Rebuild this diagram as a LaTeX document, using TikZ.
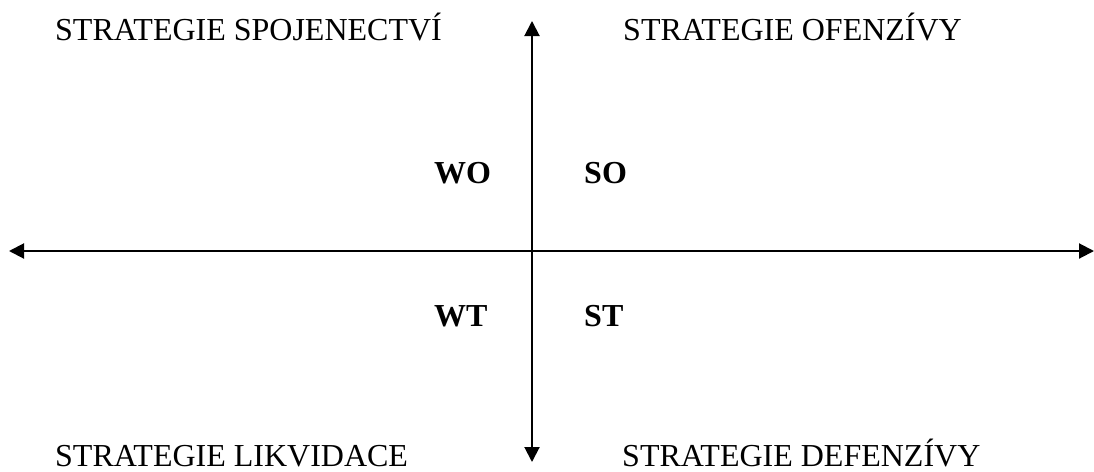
\documentclass[tikz,border=0pt]{standalone}
\usepackage{fontspec}
\setmainfont{Liberation Serif}
\usetikzlibrary{arrows.meta,positioning}

\begin{document}
\begin{tikzpicture}[x=1pt,y=-1pt,
  strat/.style={anchor=base west,inner sep=0pt,text depth=0pt,font=\fontsize{32}{38}\selectfont},
  quad/.style={anchor=base west,inner sep=0pt,font=\fontsize{32}{38}\selectfont\bfseries},
  axis/.style={{Triangle[length=15pt,width=15pt]}-{Triangle[length=15pt,width=15pt]},line width=2pt}
]
  \useasboundingbox (0,0) rectangle (1094,471);
  % axes
  \coordinate (xl) at (9,251);
  \coordinate (xr) at (1094,251);
  \coordinate (yt) at (532,21);
  \coordinate (yb) at (532,462);
  \draw[axis](xl)--(xr);
  \draw[axis](yt)--(yb);
  % strategies
  \node[strat](spoj) at (55,40)  {STRATEGIE SPOJENECTVÍ};
  \node[strat](ofen) at (623,40) {STRATEGIE OFENZÍVY};
  \node[strat](likv) at (55,466) {STRATEGIE LIKVIDACE};
  \node[strat](defe) at (622,466){STRATEGIE DEFENZÍVY};
  % quadrants
  \node[quad](wo) at (434,183) {WO};
  \node[quad](so) at (584,183) {SO};
  \node[quad](wt) at (434,326) {WT};
  \node[quad](st) at (584,326) {ST};
\end{tikzpicture}
\end{document}
